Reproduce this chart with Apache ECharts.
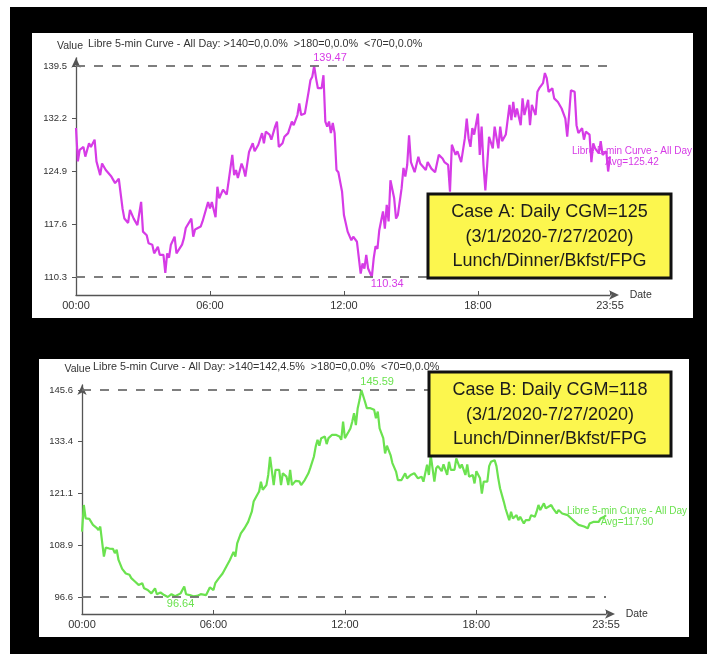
<!DOCTYPE html>
<html><head><meta charset="utf-8">
<script src="https://cdn.jsdelivr.net/npm/echarts@6/dist/echarts.min.js"></script>
<style>
html,body{margin:0;padding:0;background:#fff;width:707px;height:654px;overflow:hidden}
#bg{position:absolute;left:10px;top:7px;width:697px;height:647px;background:#000}
#c1{position:absolute;left:32px;top:33px;width:661px;height:285px;background:#fff}
#c2{position:absolute;left:39px;top:359px;width:650px;height:278px;background:#fff}
</style></head><body>
<div id="bg"></div><div id="c1"></div><div id="c2"></div>
<script>
const FONT = '"Liberation Sans", Arial, Helvetica, sans-serif';
const seriesName = 'Libre 5-min Curve - All Day';
const xTickMinutes = [0, 360, 720, 1080, 1435];

// Case A (top)
const topTitle = 'Libre 5-min Curve - All Day: >140=0,0.0%  >180=0,0.0%  <70=0,0.0%';
const topAvg = '125.42';
const topYTicks = [110.34, 117.6225, 124.905, 132.1875, 139.47];
const topBox = ['Case A: Daily CGM=125', '(3/1/2020-7/27/2020)', 'Lunch/Dinner/Bkfst/FPG'];
const topTimes = [0,5,10,20,25,35,40,50,55,65,70,80,85,95,105,115,125,130,140,145,155,160,165,175,180,190,195,205,210,220,225,235,240,245,250,255,265,270,275,285,290,295,310,315,320,335,340,345,355,360,365,375,380,385,395,405,410,420,425,430,435,445,450,455,465,475,480,490,500,505,510,520,525,535,540,545,555,560,570,580,585,595,600,605,615,625,630,635,640,645,650,660,665,670,675,680,685,690,695,700,705,715,720,730,740,745,750,755,765,770,775,780,785,795,800,805,810,815,825,830,835,840,845,855,860,865,875,880,885,890,895,900,910,920,925,940,945,955,965,975,985,990,1000,1005,1010,1020,1025,1035,1045,1050,1055,1060,1065,1070,1080,1085,1090,1095,1100,1105,1110,1120,1125,1135,1140,1145,1155,1165,1170,1175,1180,1185,1195,1200,1205,1215,1220,1225,1235,1240,1245,1255,1260,1265,1270,1280,1285,1295,1305,1315,1320,1325,1330,1340,1345,1350,1360,1365,1370,1380,1385,1390,1395,1405,1410,1415,1425,1430,1435];
const topValues = [130.9,126.3,127.9,128.3,126.95,128.8,128.3,129.3,126.3,124.4,126.0,125.1,125.3,124.2,123.3,123.9,119.8,118.4,117.8,119.6,118.4,118.6,117.5,120.7,116.6,116.1,115.0,114.8,113.6,114.5,113.4,113.4,110.9,113.6,113.0,114.8,115.9,113.6,113.7,114.8,115.7,117.1,118.4,115.9,116.9,117.3,118.0,117.8,120.7,119.8,120.7,118.6,122.8,121.2,122.4,121.7,123.5,127.2,124.4,125.1,124.0,126.0,125.3,124.2,127.6,128.8,127.7,128.6,130.2,128.8,130.4,130.0,129.3,131.1,131.8,128.3,128.8,129.7,130.2,131.8,131.3,132.7,134.3,132.7,132.9,135.9,137.5,138.0,139.47,137.8,136.4,136.4,138.2,131.8,131.1,131.8,130.2,131.6,130.2,125.1,124.8,122.1,118.9,116.6,115.4,115.9,115.9,115.2,110.8,112.2,111.5,113.4,111.5,110.34,112.9,114.6,114.2,116.8,119.4,117.0,120.3,118.0,123.7,121.2,118.4,118.9,122.6,125.4,124.2,125.8,129.9,126.2,124.8,126.95,126.0,125.1,126.2,125.3,124.8,127.2,126.7,126.2,125.8,122.1,128.6,127.2,127.7,126.2,129.5,132.2,129.5,128.3,130.9,130.0,132.9,127.2,131.1,125.8,122.3,125.8,129.7,128.1,131.1,128.1,131.1,129.1,130.0,134.1,132.0,134.5,132.4,133.6,131.3,135.0,132.7,134.8,131.3,134.1,132.7,135.9,136.4,137.1,138.5,137.8,135.9,136.4,135.0,134.5,133.6,132.2,129.7,132.7,136.1,135.9,131.3,130.2,130.9,129.3,130.4,130.0,126.2,128.8,128.1,127.4,129.1,127.2,127.7,124.9,127.0];

// Case B (bottom)
const bottomTitle = 'Libre 5-min Curve - All Day: >140=142,4.5%  >180=0,0.0%  <70=0,0.0%';
const bottomAvg = '117.90';
const bottomYTicks = [96.64, 108.8775, 121.115, 133.3525, 145.59];
const bottomBox = ['Case B: Daily CGM=118', '(3/1/2020-7/27/2020)', 'Lunch/Dinner/Bkfst/FPG'];
const bottomTimes = [0,5,10,20,30,40,45,50,60,65,75,85,90,95,100,110,120,130,135,145,150,155,165,170,180,190,195,200,205,215,225,235,245,255,260,270,280,285,295,305,315,325,330,340,350,360,365,375,385,395,405,415,420,425,435,445,455,465,470,475,480,485,490,495,505,510,515,525,530,540,545,550,560,565,570,575,585,595,600,610,620,625,635,640,645,650,655,665,670,675,685,695,705,710,715,720,730,735,740,745,750,755,760,765,775,780,790,800,805,810,815,825,830,835,845,850,860,865,875,885,890,900,910,920,930,935,945,950,955,965,970,975,985,990,1000,1005,1010,1020,1025,1035,1040,1050,1055,1060,1070,1075,1080,1090,1095,1100,1110,1115,1120,1130,1135,1140,1145,1155,1160,1170,1175,1180,1190,1195,1200,1210,1215,1225,1230,1240,1245,1250,1255,1265,1270,1275,1285,1290,1300,1305,1315,1320,1330,1340,1350,1360,1365,1375,1385,1390,1400,1405,1415,1420,1430,1435];
const bottomValues = [112.1,118.4,115.25,115.1,113.7,113.0,112.5,113.3,106.2,108.3,108.1,108.0,107.0,107.8,105.4,103.3,102.2,101.9,101.1,100.3,100.7,99.5,99.9,98.7,98.3,97.5,97.9,98.7,97.3,97.7,97.1,96.64,97.3,96.8,97.1,97.5,99.1,97.3,97.1,96.8,96.9,97.3,97.7,97.1,98.9,98.3,99.9,101.1,102.2,103.8,105.4,107.3,106.2,109.3,111.7,112.9,114.4,116.8,119.2,119.6,120.8,121.6,123.9,122.0,123.1,125.5,129.8,123.1,126.7,126.7,123.1,125.9,125.1,123.1,126.7,123.1,124.1,124.0,123.1,124.3,125.9,127.1,129.8,132.2,133.8,132.4,134.2,134.6,132.8,134.2,135.0,135.0,134.6,133.8,138.1,134.2,135.7,136.5,138.1,140.1,137.3,141.3,143.2,145.59,142.8,141.3,141.3,140.9,138.9,140.5,136.5,134.2,130.6,132.4,130.2,128.3,126.3,124.3,124.3,125.9,124.7,125.5,125.9,124.7,125.1,123.9,127.9,125.5,130.2,123.9,127.1,127.6,126.4,128.0,125.5,128.6,126.7,126.7,129.4,127.1,128.0,125.5,128.0,125.1,125.5,123.5,126.4,124.7,121.1,123.9,123.9,127.6,128.6,129.0,127.6,124.7,122.3,119.2,117.5,114.8,116.8,115.2,116.0,114.8,115.6,114.0,114.8,114.8,116.0,115.6,116.8,118.4,117.2,118.8,117.6,117.2,118.4,117.6,116.4,117.2,116.4,116.8,116.0,115.2,114.4,113.7,114.0,113.3,112.9,114.0,114.4,114.8,114.4,115.2,115.6,116.0];

function fmtTime(v) {
  const h = Math.floor(v / 60), m = Math.round(v % 60);
  return String(h).padStart(2, '0') + ':' + String(m).padStart(2, '0');
}

function makeOption(c) {
  const data = c.times.map((t, i) => [t, c.values[i]]);
  return {
    animation: false,
    textStyle: { fontFamily: FONT },
    title: {
      text: c.title, left: c.titleLeft, top: c.titleTop, padding: 0,
      textStyle: { fontSize: 10.8, fontWeight: 'normal', color: '#333', fontFamily: FONT }
    },
    grid: c.grid,
    xAxis: {
      type: 'value', min: 0, max: 1435,
      name: 'Date', nameLocation: 'end', nameGap: 17,
      nameTextStyle: { fontSize: 10.5, color: '#333', verticalAlign: 'middle' },
      axisLine: { show: true, symbol: ['none', 'arrow'], symbolSize: [7, 10], symbolOffset: [0, 9],
        lineStyle: { color: '#555', width: 1.3 } },
      axisTick: { show: true, customValues: xTickMinutes, inside: true, length: 4, lineStyle: { color: '#555' } },
      axisLabel: { customValues: xTickMinutes, formatter: fmtTime, fontSize: 11, color: '#333', margin: 5 },
      splitLine: { show: false }
    },
    yAxis: {
      type: 'value', min: c.yMin, max: c.yMax,
      name: 'Value', nameLocation: 'end', nameGap: c.nameGap,
      nameTextStyle: { fontSize: 10.5, color: '#333', padding: [0, c.namePadRight, 0, 0] },
      axisLine: { show: true, symbol: ['none', 'arrow'], symbolSize: [7, 10], symbolOffset: [0, 0],
        lineStyle: { color: '#555', width: 1.3 } },
      axisTick: { show: true, customValues: c.yTicks, length: 4, lineStyle: { color: '#555' } },
      axisLabel: { customValues: c.yTicks, formatter: v => v.toFixed(1), fontSize: 9.5, color: '#333', margin: 9 },
      splitLine: { show: false }
    },
    series: [{
      type: 'line', name: seriesName, data: data,
      showSymbol: false, symbol: 'none',
      lineStyle: { color: c.color, width: 2.2 },
      itemStyle: { color: c.color },
      endLabel: {
        show: true, formatter: () => seriesName + '\nAvg=' + c.avg,
        color: c.color, fontSize: 10, align: 'center', distance: 0,
        offset: c.endOffset, lineHeight: 11
      },
      markLine: {
        silent: true, symbol: 'none',
        label: { show: false },
        lineStyle: { color: '#707070', type: [9, 9], width: 1.8 },
        data: [{ type: 'max' }, { type: 'min' }]
      },
      markPoint: {
        symbol: 'circle', symbolSize: 1,
        itemStyle: { color: 'rgba(0,0,0,0)' },
        label: { show: true, color: c.color, fontSize: 11, formatter: p => p.value.toFixed(2), align: 'left' },
        data: [
          { type: 'max', label: { position: 'top', distance: 2, offset: [-1, 0] } },
          { type: 'min', label: { position: 'bottom', distance: 1, offset: [-1, 0] } }
        ]
      }
    }],
    graphic: [{
      type: 'group', x: c.box[0], y: c.box[1], z: 1000, zlevel: 1,
      children: [
        { type: 'rect', z: 1000, zlevel: 1, shape: { x: 0, y: 0, width: c.box[2], height: c.box[3] },
          style: { fill: '#fcf64e', stroke: '#111', lineWidth: 3 } },
        { type: 'text', z: 1001, zlevel: 1, x: c.box[2] / 2, y: c.box[3] / 2 + 1,
          style: { text: c.boxLines.join('\n'), fill: '#1c1c1c', fontSize: 18, fontFamily: FONT,
            align: 'center', verticalAlign: 'middle', lineHeight: 24.5 } }
      ]
    }]
  };
}

const chartTop = echarts.init(document.getElementById('c1'), null, { renderer: 'canvas' });
chartTop.setOption(makeOption({
  title: topTitle, titleLeft: 56, titleTop: 5.5,
  grid: { left: 44, right: 83, top: 24.8, bottom: 23 },
  yMin: 107.85, yMax: 140.6, yTicks: topYTicks, nameGap: 6, namePadRight: 12,
  times: topTimes, values: topValues, color: '#d63be6', avg: topAvg,
  endOffset: [22, 0],
  box: [396, 161, 243, 84], boxLines: topBox
}));

const chartBottom = echarts.init(document.getElementById('c2'), null, { renderer: 'canvas' });
chartBottom.setOption(makeOption({
  title: bottomTitle, titleLeft: 54, titleTop: 2.5,
  grid: { left: 43, right: 83, top: 26, bottom: 23 },
  yMin: 92.62, yMax: 146.77, yTicks: bottomYTicks, nameGap: 10, namePadRight: 9,
  times: bottomTimes, values: bottomValues, color: '#6be24f', avg: bottomAvg,
  endOffset: [21, 2],
  box: [390, 13, 242, 84], boxLines: bottomBox
}));
</script>
</body></html>
